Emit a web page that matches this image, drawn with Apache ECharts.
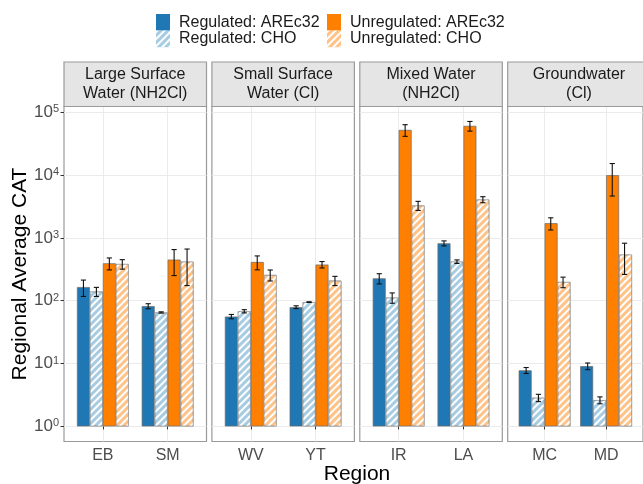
<!DOCTYPE html>
<html><head><meta charset="utf-8">
<script src="https://cdn.jsdelivr.net/npm/echarts@6/dist/echarts.min.js"></script>
<style>html,body{margin:0;padding:0;background:#fff}#c{width:643px;height:484px}</style>
</head><body><div id="c"></div>
<script>
// ---- data ----
const facets = ['Large Surface\nWater (NH2Cl)', 'Small Surface\nWater (Cl)', 'Mixed Water\n(NH2Cl)', 'Groundwater\n(Cl)'];
const regions = [['EB', 'SM'], ['WV', 'YT'], ['IR', 'LA'], ['MC', 'MD']];
const seriesNames = ['Regulated: AREc32', 'Regulated: CHO', 'Unregulated: AREc32', 'Unregulated: CHO'];
// values in region order EB, SM, WV, YT, IR, LA, MC, MD
const regAREc32 = [165, 82, 56, 79, 227, 820, 7.8, 9.1];
const regAREc32SE = [48, 7.6, 4.4, 4, 42, 75, 0.85, 1.1];
const regCHO = [140, 65, 68, 95, 112, 419, 2.86, 2.62];
const regCHOSE = [23, 1.5, 4, 1.2, 21, 27, 0.38, 0.33];
const unregAREc32 = [394, 451, 413, 376, 52200, 60500, 1710, 9930];
const unregAREc32SE = [85, 200, 103, 44, 11000, 10600, 375, 5300];
const unregCHO = [384, 419, 257, 209, 3270, 4070, 199, 542];
const unregCHOSE = [66, 245, 51, 35, 540, 450, 38, 280];
const yTickExponents = [0, 1, 2, 3, 4, 5];

// ---- layout / style ----
const FONT = '"Liberation Sans", Arial, sans-serif';
const L0 = 64, PW = 142.5, STEP = 147.9, TOP = 106.5, PH = 335;
const means = [regAREc32, regCHO, unregAREc32, unregCHO];
const ses = [regAREc32SE, regCHOSE, unregAREc32SE, unregCHOSE];
const fills = ['#1f78b4', '#a6cce4', '#ff7f00', '#ffc287'];
const hatch = { symbol: 'rect', symbolSize: 1, color: '#ffffff', dashArrayX: [1, 0], dashArrayY: [2, 3], rotation: -Math.PI / 4 };
const decals = [null, hatch, null, hatch];
const log10 = v => Math.log10(v);

const grids = [], xAxes = [], yAxes = [], series = [], graphics = [];
for (let p = 0; p < 4; p++) {
  const left = L0 + p * STEP;
  grids.push({ left: left, top: TOP, width: PW, height: PH, show: true, borderColor: '#9a9a9a', borderWidth: 1.2, backgroundColor: 'transparent' });
  xAxes.push({
    type: 'value', gridIndex: p, min: 0.4, max: 2.6,
    axisLine: { show: false },
    splitLine: { show: true, lineStyle: { color: '#ebebeb', width: 1 } },
    axisTick: { show: true, customValues: [1, 2], length: 3, lineStyle: { color: '#333' } },
    axisLabel: { customValues: [1, 2], formatter: v => regions[p][Math.round(v) - 1], fontSize: 16, color: '#4d4d4d', fontFamily: FONT, margin: 6 }
  });
  yAxes.push({
    type: 'value', gridIndex: p, min: -0.24, max: 5.09,
    axisLine: { show: false },
    splitLine: { show: true, lineStyle: { color: '#ebebeb', width: 1 } },
    axisTick: { show: p === 0, customValues: yTickExponents, length: 3.5, lineStyle: { color: '#333' } },
    axisLabel: {
      show: p === 0, customValues: yTickExponents, margin: 5,
      formatter: v => '{b|10}{s|' + Math.round(v) + '}',
      rich: {
        b: { fontSize: 17, lineHeight: 17, color: '#4d4d4d', fontFamily: FONT, verticalAlign: 'bottom' },
        s: { fontSize: 11, lineHeight: 11, color: '#4d4d4d', fontFamily: FONT, verticalAlign: 'top', padding: [0, 0, 10, 0] }
      }
    }
  });
  const errData = [];
  for (let s = 0; s < 4; s++) {
    const data = [];
    for (let c = 0; c < 2; c++) {
      const idx = p * 2 + c;
      const m = means[s][idx], e = ses[s][idx];
      data.push([c + 1, log10(m)]);
      errData.push([c + 1 + (s - 1.5) * 0.2, log10(m - e), log10(m + e)]);
    }
    series.push({
      type: 'bar', name: seriesNames[s], xAxisIndex: p, yAxisIndex: p,
      barWidth: PW / 2.2 * 0.2, barGap: '0%', silent: true,
      itemStyle: Object.assign({ color: fills[s], borderColor: s % 2 ? '#9a9a9a' : '#6a6a6a', borderWidth: 0.7 }, decals[s] ? { decal: decals[s] } : {}),
      data: data
    });
  }
  series.push({
    type: 'custom', xAxisIndex: p, yAxisIndex: p, silent: true, z: 5,
    encode: { x: 0, y: [1, 2] },
    data: errData,
    renderItem: function (params, api) {
      const x = api.value(0);
      const a = api.coord([x, api.value(2)]);
      const b = api.coord([x, api.value(1)]);
      const hw = 2.6;
      const st = { stroke: '#111', lineWidth: 1.1 };
      return {
        type: 'group', children: [
          { type: 'line', shape: { x1: a[0], y1: a[1], x2: b[0], y2: b[1] }, style: st },
          { type: 'line', shape: { x1: a[0] - hw, y1: a[1], x2: a[0] + hw, y2: a[1] }, style: st },
          { type: 'line', shape: { x1: b[0] - hw, y1: b[1], x2: b[0] + hw, y2: b[1] }, style: st }
        ]
      };
    }
  });
  graphics.push({ type: 'rect', shape: { x: left, y: 62, width: PW, height: 44.5 }, style: { fill: '#e5e5e5', stroke: '#9a9a9a', lineWidth: 1.2 }, z: 1 });
  graphics.push({ type: 'text', x: left + PW / 2, y: 84.5, z: 2, style: { text: facets[p], fill: '#1a1a1a', fontSize: 16, fontFamily: FONT, lineHeight: 19, align: 'center', verticalAlign: 'middle', textAlign: 'center', textVerticalAlign: 'middle' } });
}
graphics.push({ type: 'text', x: 357, y: 474, style: { text: 'Region', fill: '#000', fontSize: 21, fontFamily: FONT, align: 'center', verticalAlign: 'middle', textAlign: 'center', textVerticalAlign: 'middle' } });
graphics.push({ type: 'text', x: 20, y: 274, rotation: Math.PI / 2, style: { text: 'Regional Average CAT', fill: '#000', fontSize: 21, fontFamily: FONT, align: 'center', verticalAlign: 'middle', textAlign: 'center', textVerticalAlign: 'middle' } });

const legendCommon = { orient: 'vertical', itemWidth: 14, itemHeight: 16.6, itemGap: 0, padding: 0, icon: 'rect', selectedMode: false,
  itemStyle: { borderWidth: 0 },
  textStyle: { fontSize: 16, color: '#1a1a1a', fontFamily: FONT, padding: [0, 0, 0, 4] } };

const chart = echarts.init(document.getElementById('c'), null, { renderer: 'canvas' });
chart.setOption({
  animation: false,
  backgroundColor: '#ffffff',
  legend: [
    Object.assign({}, legendCommon, { left: 156, top: 14, data: [seriesNames[0], seriesNames[1]] }),
    Object.assign({}, legendCommon, { left: 327, top: 14, data: [seriesNames[2], seriesNames[3]] })
  ],
  grid: grids, xAxis: xAxes, yAxis: yAxes, series: series, graphic: graphics
});
</script></body></html>
